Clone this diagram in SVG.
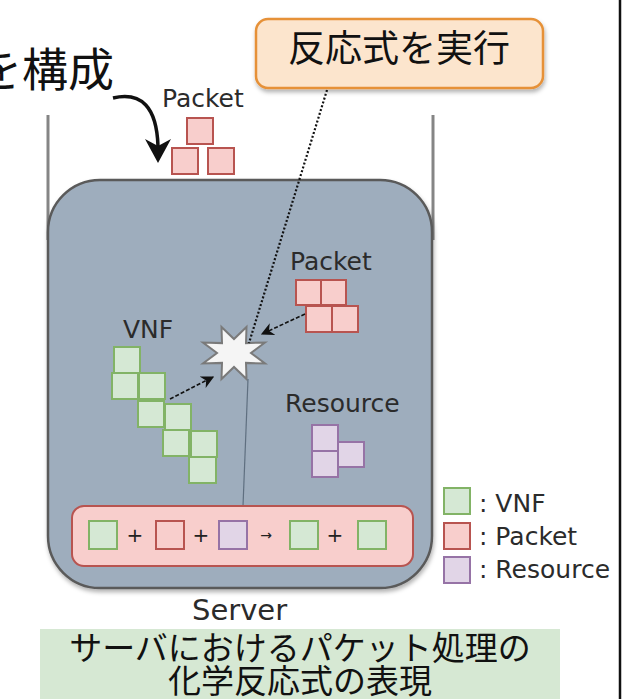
<svg xmlns="http://www.w3.org/2000/svg" width="643" height="699" viewBox="0 0 643 699">
  <defs>
    <style>
      .lbl { font-family: "DejaVu Sans", Verdana, sans-serif; font-size: 25px; fill: #2b2b2b; }
      .big { font-size: 29px; }
      .jp { font-family: "Noto Sans CJK JP", "Noto Sans CJK SC", sans-serif; fill: #111; }
      .vnf { fill: #d5e8d4; stroke: #82b366; stroke-width: 2; }
      .pkt { fill: #f8cecc; stroke: #b85450; stroke-width: 2; }
      .res { fill: #e1d5e7; stroke: #9673a6; stroke-width: 2; }
      .op { font-family: "DejaVu Sans", sans-serif; font-size: 20px; fill: #222; text-anchor: middle; }
      .op.small { font-size: 14px; }
    </style>
    <filter id="shadow" x="-10%" y="-10%" width="130%" height="140%">
      <feDropShadow dx="1" dy="3" stdDeviation="2" flood-color="#000" flood-opacity="0.3"/>
    </filter>
    <marker id="tri" viewBox="0 0 10 10" refX="9" refY="5" markerWidth="8" markerHeight="8" orient="auto" markerUnits="strokeWidth">
      <path d="M0,0 L10,5 L0,10 L3,5 Z" fill="#111"/>
    </marker>
  </defs>

  <rect width="643" height="699" fill="#ffffff"/>

  <!-- page divider on the right -->
  <line x1="620" y1="0" x2="620" y2="699" stroke="#111" stroke-width="2.5"/>

  <!-- heading fragment at top-left -->
  <text class="jp" x="114" y="86" font-size="46" text-anchor="end">を構成</text>

  <!-- beaker walls -->
  <g id="beaker" stroke="#858585" stroke-width="3">
    <line x1="48" y1="115" x2="48" y2="240"/>
    <line x1="433" y1="115" x2="433" y2="240"/>
  </g>

  <!-- server body -->
  <g id="server">
    <rect x="48" y="180" width="384" height="408" rx="52" fill="#9eadbd" stroke="#5a5a5a" stroke-width="2.5" filter="url(#shadow)"/>
    <text class="lbl big" x="192" y="620">Server</text>
  </g>

  <!-- incoming packets above the server -->
  <g id="packet-in">
    <text class="lbl" x="162" y="107">Packet</text>
    <rect class="pkt" x="187" y="118" width="26" height="26"/>
    <rect class="pkt" x="172" y="148" width="26" height="26"/>
    <rect class="pkt" x="208" y="148" width="26" height="26"/>
  </g>

  <!-- packets inside the server -->
  <g id="packet-pool">
    <text class="lbl" x="290" y="270">Packet</text>
    <rect class="pkt" x="296" y="280" width="25" height="25"/>
    <rect class="pkt" x="321" y="280" width="25" height="25"/>
    <rect class="pkt" x="306" y="306" width="26" height="26"/>
    <rect class="pkt" x="332" y="306" width="26" height="26"/>
  </g>

  <!-- VNF stack -->
  <g id="vnf-pool">
    <text class="lbl" x="123" y="338">VNF</text>
    <rect class="vnf" x="114" y="347" width="26" height="26"/>
    <rect class="vnf" x="112" y="373" width="26" height="26"/>
    <rect class="vnf" x="139" y="373" width="26" height="26"/>
    <rect class="vnf" x="138" y="401" width="26" height="26"/>
    <rect class="vnf" x="165" y="404" width="26" height="26"/>
    <rect class="vnf" x="163" y="430" width="26" height="26"/>
    <rect class="vnf" x="191" y="431" width="26" height="26"/>
    <rect class="vnf" x="189" y="457" width="27" height="26"/>
  </g>

  <!-- resources -->
  <g id="resource-pool">
    <text class="lbl" x="285" y="412">Resource</text>
    <rect class="res" x="312" y="425" width="26" height="26"/>
    <rect class="res" x="312" y="451" width="26" height="26"/>
    <rect class="res" x="338" y="442" width="26" height="25"/>
  </g>

  <!-- reaction point: eight-pointed star -->
  <g id="reaction">
    <polygon points="265,342.5 251,353 265,363.5 246,362.9 246.5,379 234,367 221.5,379 222,362.9 203,363.5 217,353 203,342.5 222,343.1 221.5,327 234,339 246.5,327 246,343.1"
      fill="#f5f5f5" stroke="#7a7a7a" stroke-width="2" stroke-linejoin="miter"/>
  </g>

  <!-- connectors -->
  <g id="connectors">
    <path d="M113,98 Q156,88 158,146" fill="none" stroke="#111" stroke-width="3.5"/>
    <polygon points="158,163 145,139 158,146 171,139" fill="#111"/>
    <line x1="327" y1="90" x2="249" y2="343" stroke="#111" stroke-width="2.2" stroke-dasharray="2 2"/>
    <line x1="305" y1="314" x2="262" y2="334" stroke="#111" stroke-width="1.6" stroke-dasharray="4 2" marker-end="url(#tri)"/>
    <line x1="170" y1="399" x2="213" y2="377" stroke="#111" stroke-width="1.6" stroke-dasharray="4 2" marker-end="url(#tri)"/>
    <line x1="248" y1="379" x2="243" y2="506" stroke="#5f6f80" stroke-width="1.2"/>
  </g>

  <!-- callout -->
  <g id="callout">
    <rect x="256" y="19" width="287" height="69" rx="12" fill="#fce5cd" stroke="#e69138" stroke-width="2.5" filter="url(#shadow)"/>
    <text class="jp" x="399" y="62" font-size="37" text-anchor="middle">反応式を実行</text>
  </g>

  <!-- reaction equation -->
  <g id="equation">
    <rect x="72" y="506" width="341" height="60" rx="12" fill="#f8cecc" stroke="#b85450" stroke-width="2"/>
    <rect class="vnf" x="89" y="521" width="28" height="28"/>
    <text class="op" x="135" y="542">+</text>
    <rect class="pkt" x="156" y="521" width="28" height="28"/>
    <text class="op" x="201" y="542">+</text>
    <rect class="res" x="219" y="521" width="28" height="28"/>
    <text class="op small" x="266" y="540">→</text>
    <rect class="vnf" x="290" y="521" width="28" height="28"/>
    <text class="op" x="335" y="542">+</text>
    <rect class="vnf" x="358" y="521" width="28" height="28"/>
  </g>

  <!-- legend -->
  <g id="legend">
    <rect class="vnf" x="444" y="488" width="26" height="26"/>
    <text class="lbl" x="479" y="512">: VNF</text>
    <rect class="pkt" x="444" y="523" width="26" height="26"/>
    <text class="lbl" x="479" y="545">: Packet</text>
    <rect class="res" x="444" y="557" width="26" height="26"/>
    <text class="lbl" x="479" y="578">: Resource</text>
  </g>

  <!-- caption banner -->
  <g id="caption">
    <rect x="40" y="629" width="520" height="70" fill="#d6e8d3"/>
    <text class="jp" x="300" y="660" font-size="33" text-anchor="middle">サーバにおけるパケット処理の</text>
    <text class="jp" x="300" y="693" font-size="33" text-anchor="middle">化学反応式の表現</text>
  </g>
</svg>
